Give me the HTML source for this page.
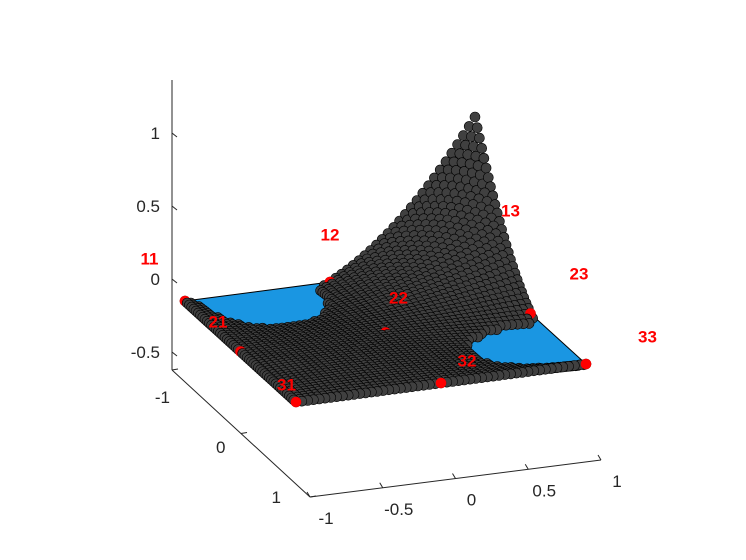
<!DOCTYPE html>
<html><head><meta charset="utf-8"><style>
html,body{margin:0;padding:0;background:#fff;}
svg{display:block;font-family:"Liberation Sans",sans-serif;}
</style></head><body>
<svg id="chart" width="746" height="560" viewBox="0 0 746 560" xmlns="http://www.w3.org/2000/svg">
<g id="axes" stroke="#262626" stroke-width="1" fill="none">
  <line x1="172" y1="80" x2="172" y2="370"/>
  <line x1="172" y1="370" x2="310" y2="497"/>
  <line x1="310" y1="497" x2="601" y2="460"/>
</g>
<g id="ticks"></g>
<g id="plot"></g>
<g id="labels"></g>
</svg>
<script>
// data
const xNodes = [-1, 0, 1];
const yNodes = [-1, 0, 1];
const nodeLabels = [["11","12","13"],["21","22","23"],["31","32","33"]]; // [yIndex][xIndex]
const activeNode = [0, 2]; // [yIndex, xIndex] -> shape function N13
const gridCount = 51;
const zTicks = [-0.5, 0, 0.5, 1];
const xTicks = [-1, -0.5, 0, 0.5, 1];
const xTickLabels = ["-1", "-0.5", "0", "0.5", "1"];
const yTicks = [-1, 0, 1];
const yTickLabels = ["-1", "0", "1"];

const NS = "http://www.w3.org/2000/svg";
const O = [385.5, 332.5], EX = [145, -19], EY = [55.5, 50.5], EZ = [0, -146];
function proj(x, y, z) { return [O[0] + x*EX[0] + y*EY[0] + z*EZ[0], O[1] + x*EX[1] + y*EY[1] + z*EZ[1]]; }
function depth(x, y, z) { return (y*0.935 - x*0.358)*0.94 + z*0.35; }
function lag(nodes, k, t) { let v = 1; for (let m = 0; m < nodes.length; m++) if (m !== k) v *= (t - nodes[m]) / (nodes[k] - nodes[m]); return v; }
function N(x, y) { return lag(xNodes, activeNode[1], x) * lag(yNodes, activeNode[0], y); }
function mk(tag, attrs, parent) { const e = document.createElementNS(NS, tag); for (const k in attrs) e.setAttribute(k, attrs[k]); parent.appendChild(e); return e; }

// ticks
const tg = document.getElementById('ticks');
zTicks.forEach((v, i) => {
  const yy = 279 - v*146;
  const l = mk('line', {x1:172, y1:yy, x2:177, y2:yy+4, stroke:'#262626'}, tg);
  
  
  const t = mk('text', {x:160, y:yy+6, 'text-anchor':'end', 'font-size':17, fill:'#262626'}, tg);
  
  
  t.textContent = String(v);
});
xTicks.forEach((v, i) => {
  const f = (v + 1) / 2;
  const px = 310 + f*291, py = 497 - f*37;
  const l = mk('line', {x1:px, y1:py, x2:px-3, y2:py-5, stroke:'#262626'}, tg);
  
  
  const t = mk('text', {x:px + 16, y:py + 27, 'text-anchor':'middle', 'font-size':17, fill:'#262626'}, tg);
  
  
  t.textContent = xTickLabels[i];
});
yTicks.forEach((v, i) => {
  const f = (v + 1) / 2;
  const px = 172 + f*138, py = 370 + f*127;
  const l = mk('line', {x1:px, y1:py, x2:px+6, y2:py-1, stroke:'#262626'}, tg);
  
  
  const t = mk('text', {x:px - 2 - f*27, y:py + 33 - f*27, 'text-anchor':'end', 'font-size':17, fill:'#262626'}, tg);
  
  
  t.textContent = yTickLabels[i];
});

// plane
const pg = document.getElementById('plot');
const corners = [proj(-1,-1,0), proj(-1,1,0), proj(1,1,0), proj(1,-1,0)];
const plane = mk('polygon', {points: corners.map(p => p.join(',')).join(' '), fill:'#1a96e2', stroke:'#000', 'stroke-width':1}, pg);



// points
const pts = [];
for (let i = 0; i < gridCount; i++) for (let j = 0; j < gridCount; j++) {
  const x = -1 + 2*i/(gridCount-1), y = -1 + 2*j/(gridCount-1);
  const z = N(x, y);
  if (z < -0.035) continue;
  pts.push({x, y, z, red:false, d:depth(x,y,z)});
}
yNodes.forEach((y, a) => xNodes.forEach((x, b) => {
  const z = 0;
  pts.push({x, y, z, red:true, d:depth(x,y,z) + 0.03});
}));
pts.sort((p, q) => p.d - q.d);
pts.forEach(p => {
  const s = proj(p.x, p.y, p.z);
  const c = mk('circle', {cx:s[0].toFixed(1), cy:s[1].toFixed(1), r:5, fill: p.red ? '#ff0000' : '#404040', stroke: p.red ? '#ff0000' : '#000', 'stroke-width':0.6}, pg);
  
  
});

// labels
const lg = document.getElementById('labels');
yNodes.forEach((y, a) => xNodes.forEach((x, b) => {
  const s = proj(x, y, 0);
  const lx = s[0] + 13 + x*35.5 + y*13, ly = s[1] - 35 - x*5 + y*12.5;
  const t = mk('text', {x:lx, y:ly + 6, 'text-anchor':'middle', 'font-size':17, 'font-weight':'bold', fill:'#ff0000'}, lg);
  
  
  t.textContent = nodeLabels[a][b];
}));
</script>
</body></html>
